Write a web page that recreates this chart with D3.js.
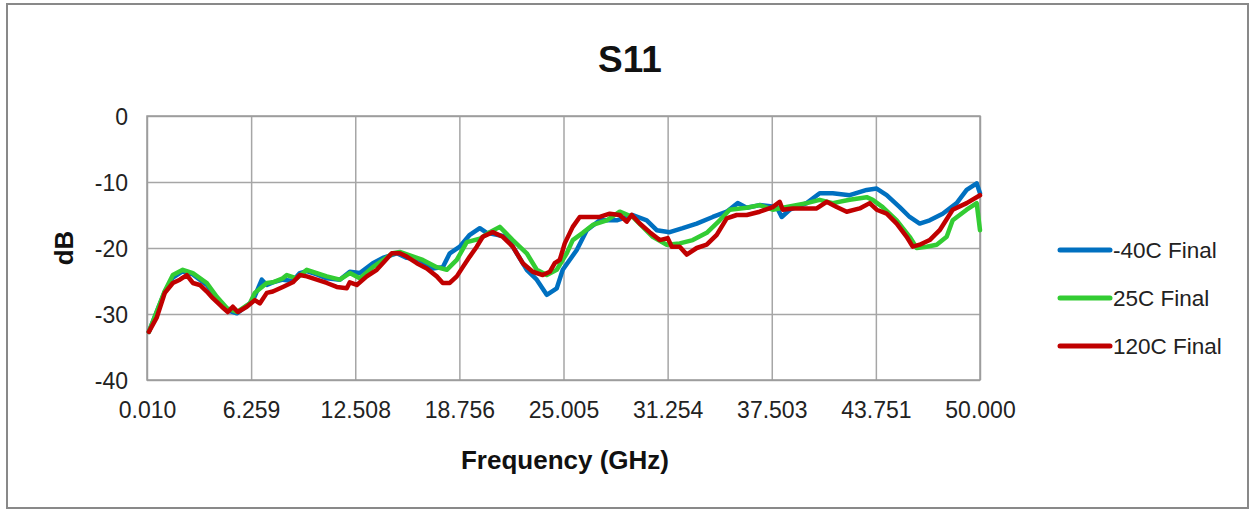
<!DOCTYPE html>
<html>
<head>
<meta charset="utf-8">
<script src="https://cdn.jsdelivr.net/npm/d3@7"></script>
<style>
  html, body { margin: 0; padding: 0; background: #fff; }
  svg { display: block; }
</style>
</head>
<body>
<svg id="chart" width="1252" height="510"></svg>
<script>
const title = "S11";
const xTickLabels = ["0.010", "6.259", "12.508", "18.756", "25.005", "31.254", "37.503", "43.751", "50.000"];
const yTicks = [0, -10, -20, -30, -40];
const seriesNames = ["-40C Final", "25C Final", "120C Final"];
const seriesColors = ["#0070C0", "#33CC33", "#C00000"];

const freqBlue = [0.12,1.08,1.56,2.16,2.76,3.6,4.2,4.8,5.4,6.18,6.48,6.9,7.2,7.56,8.16,8.76,9.18,9.6,10.2,10.8,11.58,12.18,12.78,13.56,14.16,15.0,15.6,16.38,17.16,17.76,18.18,18.78,19.38,19.98,20.4,21.6,22.2,22.8,23.4,24.0,24.6,24.96,25.8,26.4,27.18,28.2,29.16,30.0,30.6,31.38,32.16,33.0,33.96,34.8,35.46,36.0,36.78,37.8,38.1,38.58,39.6,40.38,41.16,42.18,43.2,43.8,44.4,45.18,45.78,46.38,46.98,47.76,48.6,49.2,49.8,50.0];
const dbBlue = [-32.7,-26.6,-24.5,-23.5,-24.0,-25.6,-27.6,-29.4,-29.9,-28.4,-27.3,-24.8,-25.6,-25.2,-24.8,-25.0,-23.8,-23.5,-24.0,-24.6,-24.8,-23.6,-23.8,-22.3,-21.5,-20.8,-21.5,-21.8,-23.1,-22.9,-20.8,-19.8,-18.0,-17.0,-17.7,-18.3,-20.8,-23.3,-24.8,-27.1,-26.1,-23.3,-20.3,-17.3,-15.8,-15.8,-15.0,-15.8,-17.3,-17.6,-17.0,-16.3,-15.3,-14.5,-13.2,-13.9,-13.5,-13.8,-15.3,-14.2,-13.2,-11.7,-11.7,-12.0,-11.2,-11.0,-12.0,-13.8,-15.3,-16.3,-15.8,-14.8,-13.2,-11.2,-10.2,-11.7];

const freqGreen = [0.12,1.08,1.56,2.16,2.76,3.6,4.2,4.8,5.4,6.18,6.48,7.2,7.56,8.16,8.4,9.0,9.6,10.2,10.8,11.58,12.18,12.78,13.56,14.76,15.18,16.56,17.4,18.0,18.6,19.2,19.98,20.58,21.18,21.96,22.8,23.4,24.0,24.6,25.2,25.56,26.16,26.76,27.6,28.38,29.16,29.76,30.36,31.2,31.98,32.76,33.6,34.38,34.98,36.0,36.78,37.56,38.4,39.6,40.38,41.16,42.18,43.2,43.56,44.16,45.0,45.78,46.2,46.8,47.4,48.0,48.36,49.2,49.8,50.0];
const dbGreen = [-32.7,-26.5,-24.1,-23.3,-23.8,-25.3,-27.4,-29.1,-29.7,-28.4,-26.8,-25.3,-25.2,-24.6,-24.1,-24.6,-23.3,-23.8,-24.3,-24.8,-23.8,-24.6,-22.9,-20.8,-20.6,-21.8,-22.9,-23.3,-21.8,-19.1,-18.6,-17.6,-16.8,-18.8,-20.8,-23.3,-24.1,-23.3,-20.8,-18.8,-17.7,-16.5,-15.8,-14.5,-15.3,-16.8,-18.3,-19.5,-19.3,-18.8,-17.7,-15.8,-14.2,-13.9,-13.5,-14.2,-13.8,-13.2,-12.7,-13.2,-12.7,-12.3,-12.7,-13.8,-15.8,-18.3,-20.0,-19.8,-19.5,-18.3,-15.8,-14.2,-13.2,-17.3];

const freqRed = [0.12,0.6,1.08,1.56,1.98,2.4,2.76,3.18,3.6,3.96,4.5,4.86,5.16,5.46,6.0,6.48,6.78,7.2,7.56,8.16,8.76,9.18,9.6,10.2,10.8,11.4,12.0,12.18,12.6,13.2,13.8,14.16,14.7,15.18,15.6,16.2,16.8,17.4,17.76,18.18,18.6,18.96,19.38,19.8,20.16,20.76,21.36,21.96,22.56,23.16,23.76,24.18,24.48,24.78,25.08,25.56,25.98,26.58,27.18,27.78,28.38,28.8,29.1,29.58,30.18,30.78,31.26,31.5,31.98,32.4,33.0,33.6,34.2,34.8,35.4,36.0,36.78,37.56,37.98,38.16,38.76,39.6,40.2,40.8,41.4,42.0,42.78,43.38,43.8,44.4,45.0,45.6,45.96,46.38,46.98,47.58,48.36,49.2,50.0];
const dbRed = [-32.7,-30.5,-26.8,-25.3,-24.8,-24.1,-25.3,-25.6,-26.6,-27.6,-28.9,-29.7,-28.9,-29.7,-28.9,-27.9,-28.4,-26.8,-26.6,-25.9,-25.2,-24.1,-24.3,-24.8,-25.3,-25.9,-26.1,-25.2,-25.6,-24.3,-23.3,-22.3,-20.8,-20.8,-21.3,-22.3,-23.1,-24.3,-25.3,-25.3,-24.3,-22.9,-21.3,-19.8,-18.3,-17.6,-18.3,-19.8,-22.3,-23.6,-24.1,-23.6,-22.3,-21.8,-19.3,-16.8,-15.3,-15.3,-15.3,-14.8,-15.0,-16.0,-15.0,-16.3,-17.6,-18.8,-18.5,-19.8,-19.8,-21.0,-20.0,-19.5,-18.0,-15.5,-15.0,-15.0,-14.5,-13.8,-13.0,-14.2,-14.0,-14.0,-14.0,-13.0,-13.8,-14.5,-14.0,-13.2,-14.2,-14.8,-16.3,-18.3,-19.8,-19.5,-18.8,-17.3,-14.2,-13.2,-12.0];

const series = [
  { name: seriesNames[0], color: seriesColors[0], f: freqBlue, v: dbBlue },
  { name: seriesNames[1], color: seriesColors[1], f: freqGreen, v: dbGreen },
  { name: seriesNames[2], color: seriesColors[2], f: freqRed, v: dbRed }
];

const svg = d3.select("#chart");
const font = "'Liberation Sans', Arial, sans-serif";

// outer border
svg.append("rect").attr("x", 7).attr("y", 4).attr("width", 1241).attr("height", 504)
  .attr("fill", "#fff").attr("stroke", "#898989").attr("stroke-width", 2);

const pLeft = 147, pRight = 980, pTop = 116, pBottom = 380;
const x = d3.scaleLinear().domain([0.01, 50]).range([pLeft, pRight]);
const y = d3.scaleLinear().domain([-40, 0]).range([pBottom, pTop]);
const tickVals = xTickLabels.map(s => +s);

// gridlines + x tick labels
const gx = svg.append("g").attr("transform", `translate(0,${pBottom})`)
  .call(d3.axisBottom(x).tickValues(tickVals).tickSize(-(pBottom - pTop)).tickFormat((d, i) => xTickLabels[i]));
gx.select(".domain").remove();
gx.selectAll("line").attr("stroke", "#a6a6a6").attr("stroke-width", 1.5);
gx.selectAll("text").attr("font-family", font).attr("font-size", 23).attr("fill", "#222").attr("dy", "0.71em").attr("y", 22);

const gy = svg.append("g").attr("transform", `translate(${pLeft},0)`)
  .call(d3.axisLeft(y).tickValues(yTicks).tickSize(-(pRight - pLeft)).tickFormat(d => String(d)));
gy.select(".domain").remove();
gy.selectAll("line").attr("stroke", "#a6a6a6").attr("stroke-width", 1.5);
gy.selectAll("text").attr("font-family", font).attr("font-size", 23).attr("fill", "#222").attr("x", -19).attr("dy", "0.36em");

// plot frame
svg.append("rect").attr("x", pLeft).attr("y", pTop).attr("width", pRight - pLeft).attr("height", pBottom - pTop)
  .attr("fill", "none").attr("stroke", "#9a9a9a").attr("stroke-width", 1.5);

// lines
const line = d3.line().x(d => x(d[0])).y(d => y(d[1]));
series.forEach(s => {
  const pts = s.f.map((f, i) => [f, s.v[i]]);
  svg.append("path").datum(pts).attr("d", line).attr("fill", "none")
    .attr("stroke", s.color).attr("stroke-width", 4.5)
    .attr("stroke-linejoin", "round").attr("stroke-linecap", "round");
});

// title
svg.append("text").attr("x", 630).attr("y", 72).attr("text-anchor", "middle")
  .attr("font-family", font).attr("font-weight", "bold").attr("font-size", 37).attr("fill", "#111").text(title);

// axis titles
svg.append("text").attr("x", 565).attr("y", 469).attr("text-anchor", "middle")
  .attr("font-family", font).attr("font-weight", "bold").attr("font-size", 26).attr("fill", "#111").text("Frequency (GHz)");
svg.append("text").attr("transform", "translate(73,248) rotate(-90)").attr("text-anchor", "middle")
  .attr("font-family", font).attr("font-weight", "bold").attr("font-size", 26).attr("fill", "#111").text("dB");

// legend
const lg = svg.append("g");
series.forEach((s, i) => {
  const ly = 250 + i * 48;
  lg.append("line").attr("x1", 1060).attr("x2", 1110).attr("y1", ly).attr("y2", ly)
    .attr("stroke", s.color).attr("stroke-width", 5).attr("stroke-linecap", "round");
  lg.append("text").attr("x", 1113).attr("y", ly).attr("dy", "0.36em")
    .attr("font-family", font).attr("font-size", 22.5).attr("fill", "#222").text(s.name);
});
</script>
</body>
</html>
